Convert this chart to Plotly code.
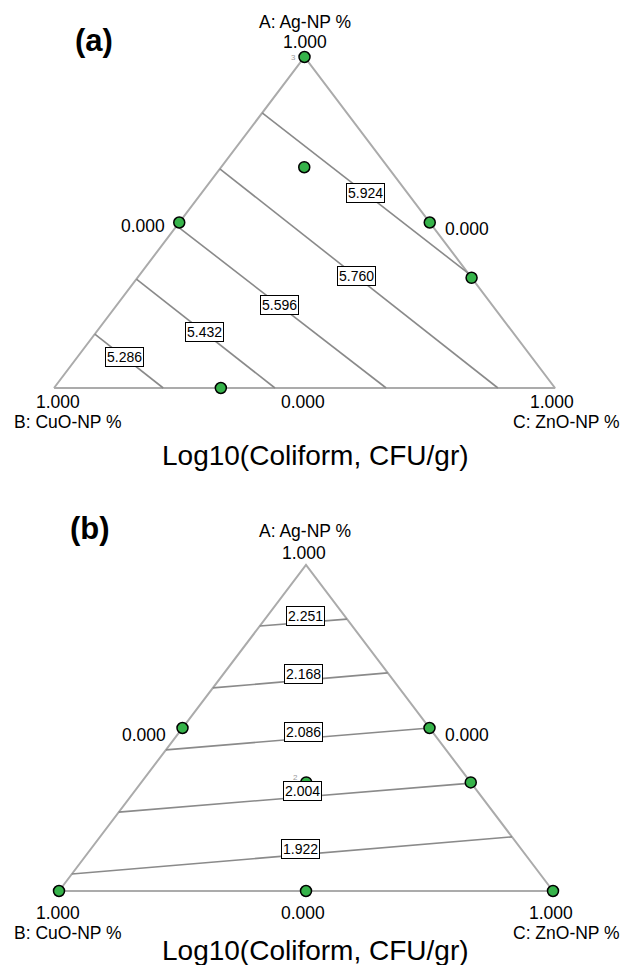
import plotly.graph_objects as go

FONT = "Liberation Sans, Arial, Helvetica, sans-serif"

# ------------------------------------------------------------------ data
vertex_names = ["A: Ag-NP %", "B: CuO-NP %", "C: ZnO-NP %"]
vertex_tick = "1.000"
edge_tick = "0.000"
response_title = "Log10(Coliform, CFU/gr)"
panel_tags = ["(a)", "(b)"]

# panel (a): design points (fractions of A, B, C)
a_pt_A = [1.000, 0.667, 0.500, 0.500, 0.333, 0.000]
a_pt_B = [0.000, 0.167, 0.500, 0.000, 0.000, 0.667]
a_pt_C = [0.000, 0.166, 0.000, 0.500, 0.667, 0.333]
a_pt_rep = ["3", "", "", "", "", ""]

# panel (a): contour levels, each as a segment between two compositions
a_levels = ["5.286", "5.432", "5.596", "5.760", "5.924"]
a_from_A = [0.163, 0.329, 0.490, 0.662, 0.831]
a_from_B = [0.837, 0.671, 0.510, 0.338, 0.169]
a_from_C = [0.000, 0.000, 0.000, 0.000, 0.000]
a_to_A = [0.000, 0.000, 0.000, 0.000, 0.347]
a_to_B = [0.782, 0.559, 0.337, 0.114, 0.000]
a_to_C = [0.218, 0.441, 0.663, 0.886, 0.653]

# panel (b): design points
b_pt_A = [0.000, 0.000, 0.000, 0.500, 0.500, 0.333, 0.333]
b_pt_B = [1.000, 0.000, 0.500, 0.500, 0.000, 0.333, 0.000]
b_pt_C = [0.000, 1.000, 0.500, 0.000, 0.500, 0.334, 0.667]
b_pt_rep = ["", "", "", "", "", "2", ""]

# panel (b): contour levels
b_levels = ["2.251", "2.168", "2.086", "2.004", "1.922"]
b_from_A = [0.813, 0.623, 0.433, 0.242, 0.052]
b_from_B = [0.187, 0.377, 0.567, 0.758, 0.948]
b_from_C = [0.000, 0.000, 0.000, 0.000, 0.000]
b_to_A = [0.834, 0.669, 0.500, 0.331, 0.166]
b_to_B = [0.000, 0.000, 0.000, 0.000, 0.000]
b_to_C = [0.166, 0.331, 0.500, 0.669, 0.834]


# ------------------------------------------------------------------ helpers
def tern(A, B, C):
    """Standard ternary -> cartesian projection (B left, C right, A top)."""
    s = A + B + C
    return (C + A / 2.0) / s, A / s


EDGE_COLOR = "#ababab"
CONTOUR_COLOR = "#8a8a8a"
DOT_COLOR = "#36b34a"

W, H = 623, 965

# pixel geometry of each triangle: left vertex x, right vertex x, apex y, base y
geom = {
    "a": dict(left=54, right=555, top=57, base=388),
    "b": dict(left=59, right=553, top=565, base=891),
}

fig = go.Figure()
annotations = []


def paper(px, py):
    return px / W, 1 - py / H


def add_panel(xa, ya, pA, pB, pC, reps, levels, fA, fB, fC, tA, tB, tC,
              label_t, label_dy, rep_dy):
    # triangle outline
    vx, vy = [], []
    for comp in [(0, 1, 0), (0, 0, 1), (1, 0, 0), (0, 1, 0)]:
        x, y = tern(*comp)
        vx.append(x)
        vy.append(y)
    fig.add_trace(go.Scatter(x=vx, y=vy, mode="lines", xaxis=xa, yaxis=ya,
                             line=dict(color=EDGE_COLOR, width=2),
                             hoverinfo="skip"))
    # contours
    for lev, a0, b0, c0, a1, b1, c1, t in zip(levels, fA, fB, fC, tA, tB, tC,
                                                label_t):
        x0, y0 = tern(a0, b0, c0)
        x1, y1 = tern(a1, b1, c1)
        fig.add_trace(go.Scatter(x=[x0, x1], y=[y0, y1], mode="lines",
                                 xaxis=xa, yaxis=ya,
                                 line=dict(color=CONTOUR_COLOR, width=1.6),
                                 hoverinfo="skip"))
        annotations.append(dict(
            x=x0 + (x1 - x0) * t, y=y0 + (y1 - y0) * t,
            xref=xa, yref=ya, text=lev, showarrow=False, yshift=label_dy,
            font=dict(family=FONT, size=14, color="black"),
            bgcolor="white", bordercolor="black", borderwidth=1, borderpad=1))
    # design points
    xs, ys = [], []
    for a, b, c in zip(pA, pB, pC):
        x, y = tern(a, b, c)
        xs.append(x)
        ys.append(y)
    for x, y, r in zip(xs, ys, reps):
        if r:
            annotations.append(dict(
                x=x, y=y, xref=xa, yref=ya, text=r, showarrow=False,
                xshift=-11, yshift=rep_dy,
                font=dict(family=FONT, size=8, color="#9a9a9a")))
    fig.add_trace(go.Scatter(x=xs, y=ys, mode="markers", xaxis=xa, yaxis=ya,
                             marker=dict(size=11, color=DOT_COLOR,
                                         line=dict(color="black", width=1.5)),
                             hoverinfo="skip"))


add_panel("x", "y", a_pt_A, a_pt_B, a_pt_C, a_pt_rep, a_levels,
          a_from_A, a_from_B, a_from_C, a_to_A, a_to_B, a_to_C,
          [0.43, 0.49, 0.49, 0.49, 0.50], 0, 0)
add_panel("x2", "y2", b_pt_A, b_pt_B, b_pt_C, b_pt_rep, b_levels,
          b_from_A, b_from_B, b_from_C, b_to_A, b_to_B, b_to_C,
          [0.52, 0.52, 0.52, 0.52, 0.52], 6, 5)


def axis_ranges(g):
    sx = g["right"] - g["left"]
    sy = g["base"] - g["top"]
    xr = [-g["left"] / sx, (W - g["left"]) / sx]
    yr = [(g["base"] - H) / sy, g["base"] / sy]
    return xr, yr


xr_a, yr_a = axis_ranges(geom["a"])
xr_b, yr_b = axis_ranges(geom["b"])

# text labels: (text, px, py, size, bold)
text_items = [
    (panel_tags[0], 94, 40, 31, True),
    (vertex_names[0], 305, 22, 17.5, False),
    (vertex_tick, 305, 42, 17.5, False),
    (edge_tick, 143, 226, 17.5, False),
    (edge_tick, 467, 229, 17.5, False),
    (vertex_tick, 58, 402, 17.5, False),
    (edge_tick, 303, 402, 17.5, False),
    (vertex_tick, 552, 402, 17.5, False),
    (vertex_names[1], 68, 422, 17.5, False),
    (vertex_names[2], 566, 422, 17.5, False),
    (response_title, 315, 455, 28, False),

    (panel_tags[1], 90, 528, 31, True),
    (vertex_names[0], 305, 531, 17.5, False),
    (vertex_tick, 304, 553, 17.5, False),
    (edge_tick, 144, 735, 17.5, False),
    (edge_tick, 467, 735, 17.5, False),
    (vertex_tick, 58, 913, 17.5, False),
    (edge_tick, 303, 913, 17.5, False),
    (vertex_tick, 551, 913, 17.5, False),
    (vertex_names[1], 68, 933, 17.5, False),
    (vertex_names[2], 566, 933, 17.5, False),
    (response_title, 315, 950, 28, False),
]
for txt, px, py, size, bold in text_items:
    x, y = paper(px, py)
    annotations.append(dict(
        x=x, y=y, xref="paper", yref="paper",
        text=f"<b>{txt}</b>" if bold else txt,
        showarrow=False, xanchor="center", yanchor="middle",
        font=dict(family=FONT, size=size, color="black")))

axis_common = dict(visible=False, showgrid=False, zeroline=False,
                   fixedrange=True)
fig.update_layout(
    width=W, height=H,
    margin=dict(l=0, r=0, t=0, b=0),
    paper_bgcolor="white", plot_bgcolor="rgba(0,0,0,0)",
    showlegend=False,
    xaxis=dict(domain=[0, 1], range=xr_a, anchor="y", **axis_common),
    yaxis=dict(domain=[0, 1], range=yr_a, anchor="x", **axis_common),
    xaxis2=dict(domain=[0, 1], range=xr_b, anchor="y2", **axis_common),
    yaxis2=dict(domain=[0, 1], range=yr_b, anchor="x2", **axis_common),
    annotations=annotations,
)

fig.write_html("out.html", config={"displayModeBar": False},
               post_script="document.body.style.margin='0px';")
